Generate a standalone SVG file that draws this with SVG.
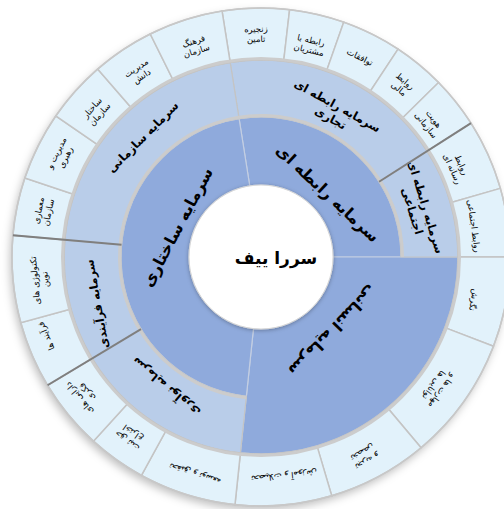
<svg xmlns="http://www.w3.org/2000/svg" width="504" height="509" viewBox="0 0 504 509">
<style>
.r1{fill:#8FAADC;stroke:#C3CEE2;stroke-width:1.2}
.r2{fill:#B9CDE9;stroke:#C4C4C4;stroke-width:1.2}
.r3{fill:#E2F2FB;stroke:#C4C4C4;stroke-width:1.5}
text{font-family:"DejaVu Sans","Noto Sans",sans-serif;fill:#000;text-anchor:middle}
.t3{font-size:8.5px}
.t2{font-size:11.5px;font-weight:bold}
.t1{font-size:16px;font-weight:bold}
.t0{font-size:17px;font-weight:bold}
.dk{stroke:#7F7F7F;stroke-width:2;fill:none}
.band{fill:none;stroke:#CCCCCC;stroke-width:3}
</style>
<defs>
<filter id="sh" x="-10%" y="-10%" width="120%" height="125%">
<feDropShadow dx="-2" dy="4" stdDeviation="4" flood-color="#000" flood-opacity="0.25"/>
</filter>
<filter id="ish" x="-20%" y="-20%" width="140%" height="140%">
<feDropShadow dx="0" dy="1" stdDeviation="2" flood-color="#000" flood-opacity="0.3"/>
</filter>
</defs>
<rect width="504" height="509" fill="#FFFFFF"/>
<circle cx="261" cy="257" r="249" fill="#E2F2FB" filter="url(#sh)"/>

<!-- Level 1 -->
<g id="n-rabete">
<path class="r1" d="M239.10 118.72 A140 140 0 0 1 401 257 L333 257 A72 72 0 0 0 249.74 185.89 Z"/>
<text class="t1" transform="translate(328,193) rotate(43)" y="6">سرمایه رابطه ای</text>
</g>
<g id="n-ensani">
<path class="r1" d="M458 257 A197 197 0 0 1 240.41 452.92 L253.47 328.61 A72 72 0 0 0 333 257 Z"/>
<text class="t1" transform="translate(333,331) rotate(134)" y="6">سرمایه انسانی</text>
</g>
<g id="n-sakhtari">
<path class="r1" d="M246.37 396.23 A140 140 0 0 1 239.10 118.72 L249.74 185.89 A72 72 0 0 0 253.47 328.61 Z"/>
<text class="t1" transform="translate(177,227) rotate(-62)" y="6">سرمایه ساختاری</text>
</g>

<!-- Level 2 -->
<g id="n-tejari">
<path class="r2" d="M230.18 62.43 A197 197 0 0 1 427.15 151.15 L379.07 181.78 A140 140 0 0 0 239.10 118.72 Z"/>
<text class="t2" transform="translate(334,112) rotate(29)"><tspan x="0" y="-3">سرمایه رابطه ای</tspan><tspan x="0" y="11">تجاری</tspan></text>
</g>
<g id="n-ejtemaei">
<path class="r2" d="M427.15 151.15 A197 197 0 0 1 458 257 L401 257 A140 140 0 0 0 379.07 181.78 Z"/>
<text class="t2" transform="translate(419,209) rotate(73)"><tspan x="0" y="-3">سرمایه رابطه ای</tspan><tspan x="0" y="11">اجتماعی</tspan></text>
</g>
<g id="n-noavari">
<path class="r2" d="M240.41 452.92 A197 197 0 0 1 92.14 358.46 L141.00 329.11 A140 140 0 0 0 246.37 396.23 Z"/>
<text class="t2" transform="translate(166,387) rotate(220)" y="4">سرمایه نوآوری</text>
</g>
<g id="n-farayandi">
<path class="r2" d="M92.14 358.46 A197 197 0 0 1 64.75 239.83 L121.53 244.80 A140 140 0 0 0 141.00 329.11 Z"/>
<text class="t2" transform="translate(97,304) rotate(-100)" y="4">سرمایه فرآیندی</text>
</g>
<g id="n-sazmani">
<path class="r2" d="M64.75 239.83 A197 197 0 0 1 230.18 62.43 L239.10 118.72 A140 140 0 0 0 121.53 244.80 Z"/>
<text class="t2" transform="translate(143,137) rotate(-45)" y="4">سرمایه سازمانی</text>
</g>

<!-- Level 3 -->
<g id="n-zanjire">
<path class="r3" d="M222.05 11.07 A249 249 0 0 1 289.62 9.65 L283.64 61.31 A197 197 0 0 0 230.18 62.43 Z"/>
<text class="t3" transform="translate(256,34) rotate(-1)"><tspan x="0" y="-2">زنجیره</tspan><tspan x="0" y="8">تامین</tspan></text>
</g>
<g id="n-moshtarian">
<path class="r3" d="M289.62 9.65 A249 249 0 0 1 343.71 22.14 L326.44 71.19 A197 197 0 0 0 283.64 61.31 Z"/>
<text class="t3" transform="translate(310,45) rotate(13)"><tspan x="0" y="-2">رابطه با</tspan><tspan x="0" y="8">مشتریان</tspan></text>
</g>
<g id="n-tavafoghat">
<path class="r3" d="M343.71 22.14 A249 249 0 0 1 398.07 49.12 L369.44 92.53 A197 197 0 0 0 326.44 71.19 Z"/>
<text class="t3" transform="translate(360,57) rotate(26.4)" y="3">توافقات</text>
</g>
<g id="n-mali">
<path class="r3" d="M398.07 49.12 A249 249 0 0 1 438.60 82.47 L401.51 118.92 A197 197 0 0 0 369.44 92.53 Z"/>
<text class="t3" transform="translate(402,85) rotate(39.5)"><tspan x="0" y="-2">روابط</tspan><tspan x="0" y="8">مالی</tspan></text>
</g>
<g id="n-hoviat">
<path class="r3" d="M438.60 82.47 A249 249 0 0 1 471.00 123.21 L427.15 151.15 A197 197 0 0 0 401.51 118.92 Z"/>
<text class="t3" transform="translate(430,122) rotate(51.5)"><tspan x="0" y="-2">هویت</tspan><tspan x="0" y="8">سازمانی</tspan></text>
</g>
<g id="n-resane">
<path class="r3" d="M471.00 123.21 A249 249 0 0 1 500.35 188.37 L450.37 202.70 A197 197 0 0 0 427.15 151.15 Z"/>
<text class="t3" transform="translate(457,167) rotate(65.7)"><tspan x="0" y="-2">روابط</tspan><tspan x="0" y="8">رسانه ای</tspan></text>
</g>
<g id="n-ravabet-ejt">
<path class="r3" d="M500.35 188.37 A249 249 0 0 1 510 257 L458 257 A197 197 0 0 0 450.37 202.70 Z"/>
<text class="t3" transform="translate(474,226) rotate(82)" y="3">روابط اجتماعی</text>
</g>
<g id="n-negaresh">
<path class="r3" d="M510 257 A249 249 0 0 1 493.46 346.23 L444.92 327.60 A197 197 0 0 0 458 257 Z"/>
<text class="t3" transform="translate(474,300) rotate(100.5)" y="3">نگرش</text>
</g>
<g id="n-maharat">
<path class="r3" d="M493.46 346.23 A249 249 0 0 1 421.05 447.74 L387.63 407.91 A197 197 0 0 0 444.92 327.60 Z"/>
<text class="t3" transform="translate(438,388) rotate(125.5)"><tspan x="0" y="-2">مهارت ها و</tspan><tspan x="0" y="8">توانایی ها</tspan></text>
</g>
<g id="n-tajrobe">
<path class="r3" d="M421.05 447.74 A249 249 0 0 1 331.72 495.75 L316.95 445.89 A197 197 0 0 0 387.63 407.91 Z"/>
<text class="t3" transform="translate(365,457) rotate(151.7)"><tspan x="0" y="-2">تجربه و</tspan><tspan x="0" y="8">تخصص</tspan></text>
</g>
<g id="n-amoozesh">
<path class="r3" d="M331.72 495.75 A249 249 0 0 1 234.97 504.64 L240.41 452.92 A197 197 0 0 0 316.95 445.89 Z"/>
<text class="t3" transform="translate(284,476) rotate(174.7)" y="3">تحصیلات و آموزش</text>
</g>
<g id="n-tahghigh">
<path class="r3" d="M234.97 504.64 A249 249 0 0 1 141.43 475.41 L166.40 429.80 A197 197 0 0 0 240.41 452.92 Z"/>
<text class="t3" transform="translate(195,474) rotate(197.3)" y="3">تحقیق و توسعه</text>
</g>
<g id="n-ekhtera">
<path class="r3" d="M141.43 475.41 A249 249 0 0 1 93.42 441.17 L128.42 402.71 A197 197 0 0 0 166.40 429.80 Z"/>
<text class="t3" transform="translate(130,437) rotate(215.5)"><tspan x="0" y="-2">حق ثبت</tspan><tspan x="0" y="8">اختراع</tspan></text>
</g>
<g id="n-daraei">
<path class="r3" d="M93.42 441.17 A249 249 0 0 1 47.56 385.24 L92.14 358.46 A197 197 0 0 0 128.42 402.71 Z"/>
<text class="t3" transform="translate(83,395) rotate(230.6)"><tspan x="0" y="-2">دارایی های</tspan><tspan x="0" y="8">فکری</tspan></text>
</g>
<g id="n-farayand">
<path class="r3" d="M47.56 385.24 A249 249 0 0 1 20.82 322.70 L70.98 308.98 A197 197 0 0 0 92.14 358.46 Z"/>
<text class="t3" transform="translate(46,336) rotate(247)" y="3">فرآیند ها</text>
</g>
<g id="n-technology">
<path class="r3" d="M20.82 322.70 A249 249 0 0 1 12.95 235.30 L64.75 239.83 A197 197 0 0 0 70.98 308.98 Z"/>
<text class="t3" transform="translate(40,280) rotate(264.8)"><tspan x="0" y="-2">تکنولوژی های</tspan><tspan x="0" y="8">نوین</tspan></text>
</g>
<g id="n-memari">
<path class="r3" d="M12.95 235.30 A249 249 0 0 1 24.87 177.99 L74.18 194.49 A197 197 0 0 0 64.75 239.83 Z"/>
<text class="t3" transform="translate(43.5,211.5) rotate(281.7)"><tspan x="0" y="-2">معماری</tspan><tspan x="0" y="8">سازمان</tspan></text>
</g>
<g id="n-rahbari">
<path class="r3" d="M24.87 177.99 A249 249 0 0 1 55.79 115.96 L98.65 145.42 A197 197 0 0 0 74.18 194.49 Z"/>
<text class="t3" transform="translate(61,155) rotate(296.5)"><tspan x="0" y="-2">مدیریت و</tspan><tspan x="0" y="8">رهبری</tspan></text>
</g>
<g id="n-sakhtar">
<path class="r3" d="M55.79 115.96 A249 249 0 0 1 97.64 69.08 L131.76 108.32 A197 197 0 0 0 98.65 145.42 Z"/>
<text class="t3" transform="translate(96,111) rotate(311.7)"><tspan x="0" y="-2">ساختار</tspan><tspan x="0" y="8">سازمان</tspan></text>
</g>
<g id="n-danesh">
<path class="r3" d="M97.64 69.08 A249 249 0 0 1 150.28 33.97 L173.41 80.55 A197 197 0 0 0 131.76 108.32 Z"/>
<text class="t3" transform="translate(139,72) rotate(326.3)"><tspan x="0" y="-2">مدیریت</tspan><tspan x="0" y="8">دانش</tspan></text>
</g>
<g id="n-farhang">
<path class="r3" d="M150.28 33.97 A249 249 0 0 1 222.05 11.07 L230.18 62.43 A197 197 0 0 0 173.41 80.55 Z"/>
<text class="t3" transform="translate(195,46) rotate(342.3)"><tspan x="0" y="-2">فرهنگ</tspan><tspan x="0" y="8">سازمان</tspan></text>
</g>

<!-- ring bands and group separators -->
<g id="connectors">
<path class="band" d="M246.21 397.72 A141.5 141.5 0 1 1 402.5 257"/>
<circle class="band" cx="261" cy="257" r="198.5"/>
<circle cx="261" cy="257" r="249" fill="none" stroke="#C8C8C8" stroke-width="1.5"/>
<line class="dk" x1="379.07" y1="181.78" x2="471.00" y2="123.21"/>
<line class="dk" x1="141.00" y1="329.11" x2="47.56" y2="385.24"/>
<line class="dk" x1="121.53" y1="244.80" x2="12.95" y2="235.30"/>
</g>

<g id="n-root">
<circle cx="261" cy="257" r="72" fill="#FFFFFF" stroke="#D6D6D6" stroke-width="1" filter="url(#ish)"/>
<text class="t0" x="276" y="264">سررا ییف</text>
</g>
</svg>
